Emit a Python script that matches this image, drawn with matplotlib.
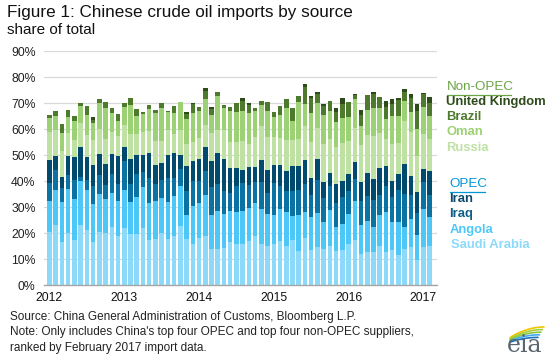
import matplotlib
matplotlib.use("Agg")
import matplotlib.pyplot as plt
import numpy as np

plt.rcParams['font.family'] = ['Liberation Sans', 'DejaVu Sans']

# Monthly, Jan 2012 .. Feb 2017 (share of total, %)
months = list(range(62))
year_labels = ['2012', '2013', '2014', '2015', '2016', '2017']

saudi = [20.4, 23.2, 16.7, 20.0, 17.2, 22.9, 21.0, 16.4, 20.3, 20.0,
         22.4, 18.7, 22.1, 19.5, 19.5, 21.8, 17.2, 17.6, 20.1, 17.8,
         19.0, 22.6, 17.8, 15.6, 18.2, 18.7, 14.0, 14.0, 14.4, 16.7,
         15.9, 15.6, 17.1, 19.0, 15.9, 14.9, 15.6, 17.1, 15.1, 17.4,
         13.2, 18.2, 13.6, 14.7, 14.0, 15.1, 13.2, 13.6, 15.9, 17.4,
         12.1, 12.8, 12.8, 15.1, 12.8, 13.6, 11.7, 14.0, 14.7, 9.7,
         14.7, 15.1]
angola = [12.0, 13.5, 15.4, 16.8, 15.7, 17.2, 15.7, 14.6, 14.7, 12.9,
          13.1, 13.7, 14.6, 12.6, 14.5, 16.0, 14.5, 14.8, 13.5, 14.3,
          15.4, 15.6, 9.3, 14.9, 13.5, 16.0, 13.1, 14.6, 13.0, 11.9,
          12.3, 13.0, 12.6, 12.7, 13.5, 12.5, 11.5, 12.3, 13.1, 9.3,
          13.9, 10.0, 12.7, 13.1, 10.4, 13.9, 9.2, 10.0, 11.5, 15.0,
          11.1, 11.9, 9.6, 12.0, 15.4, 10.8, 12.7, 8.4, 10.8, 9.7,
          14.7, 11.2]
iraq = [7.0, 7.7, 5.1, 5.6, 7.6, 1.3, 3.8, 6.9, 7.4, 5.4,
        7.3, 6.6, 11.1, 6.9, 8.8, 5.8, 9.6, 6.6, 6.9, 9.2,
        6.9, 6.5, 9.2, 9.6, 8.4, 9.3, 10.7, 10.4, 8.9, 6.9,
        10.0, 10.8, 8.9, 8.0, 10.3, 8.1, 12.3, 8.8, 8.1, 9.6,
        9.6, 10.8, 8.4, 12.7, 9.2, 9.2, 9.3, 10.4, 8.9, 8.5,
        9.2, 9.7, 10.4, 7.6, 10.0, 9.6, 12.3, 12.7, 9.2, 8.4,
        10.3, 8.4]
iran = [8.8, 5.1, 4.5, 7.3, 8.9, 11.8, 8.9, 8.4, 8.1, 8.4,
        7.7, 10.7, 5.4, 9.6, 7.3, 6.5, 9.6, 7.3, 6.6, 8.8,
        9.6, 5.4, 9.6, 7.7, 8.5, 9.2, 10.0, 11.9, 12.3, 9.6,
        6.9, 5.0, 6.9, 5.8, 8.5, 8.9, 6.9, 8.1, 7.7, 9.6,
        9.2, 9.2, 6.6, 8.1, 6.1, 5.0, 7.3, 6.1, 6.5, 6.5,
        7.3, 8.8, 8.1, 10.4, 7.7, 6.1, 6.1, 11.6, 7.4, 8.1,
        5.0, 9.3]
russia = [10.8, 10.0, 10.0, 8.6, 6.5, 9.2, 8.4, 9.3, 9.6, 9.3,
          8.5, 7.7, 8.5, 9.6, 8.1, 8.9, 8.5, 9.2, 8.4, 9.6,
          7.3, 9.6, 8.5, 7.3, 8.1, 8.5, 10.8, 8.8, 11.1, 10.0,
          10.0, 11.1, 8.9, 11.6, 13.1, 12.7, 10.8, 10.4, 11.9, 10.0,
          10.4, 13.1, 13.8, 11.9, 14.7, 13.1, 14.2, 14.6, 12.7, 13.1,
          14.3, 14.6, 16.5, 13.5, 10.4, 14.3, 11.9, 16.5, 16.9, 13.8,
          13.5, 12.3]
oman = [5.4, 5.6, 6.9, 6.4, 7.3, 6.6, 7.7, 6.6, 10.0, 11.9,
        7.0, 5.8, 6.9, 11.2, 6.9, 6.9, 8.4, 10.8, 12.7, 6.7,
        8.1, 10.8, 9.6, 11.2, 10.1, 10.0, 6.9, 13.1, 8.5, 12.0,
        11.6, 11.6, 11.9, 10.0, 8.1, 10.0, 7.6, 8.8, 12.3, 7.3,
        14.2, 8.4, 11.2, 9.6, 11.1, 10.8, 9.6, 9.7, 9.2, 11.2,
        7.3, 9.6, 10.8, 9.6, 7.7, 10.7, 10.4, 7.7, 7.7, 10.4,
        10.4, 8.8]
brazil = [1.1, 2.0, 3.5, 2.7, 1.9, 1.1, 3.5, 1.1, 1.3, 2.6,
          2.1, 2.7, 1.5, 2.7, 2.7, 0.8, 1.6, 1.1, 1.9, 0.7,
          2.5, 0.0, 1.9, 3.3, 1.8, 3.0, 2.3, 1.6, 1.2, 1.5,
          3.2, 3.8, 3.1, 1.1, 1.5, 3.4, 2.0, 3.5, 3.5, 5.0,
          2.3, 6.6, 5.8, 3.5, 3.5, 3.8, 3.9, 5.3, 5.8, 1.5,
          4.2, 5.8, 5.4, 4.2, 4.6, 4.6, 6.2, 3.5, 5.4, 7.0,
          5.0, 5.0]
uk = [0.0, 0.0, 0.0, 0.0, 0.0, 0.0, 0.0, 1.4, 0.0, 0.0,
      0.0, 0.0, 0.0, 0.0, 0.0, 0.0, 0.0, 0.0, 0.0, 0.0,
      0.0, 0.0, 0.8, 0.5, 0.0, 1.2, 0.8, 0.0, 0.0, 0.0,
      0.0, 1.2, 0.7, 0.0, 0.0, 0.0, 0.0, 0.0, 0.0, 0.0,
      0.0, 1.1, 0.7, 0.8, 0.7, 0.0, 1.5, 2.4, 0.0, 0.4,
      1.9, 0.0, 0.8, 0.0, 2.3, 2.0, 0.8, 1.1, 1.5, 2.6,
      0.4, 2.3]

series = [
    ('Saudi Arabia', saudi, '#8DD9F9'),
    ('Angola', angola, '#4DC7F7'),
    ('Iraq', iraq, '#0B73A3'),
    ('Iran', iran, '#004A6D'),
    ('Russia', russia, '#BFE1A3'),
    ('Oman', oman, '#9DD175'),
    ('Brazil', brazil, '#4D7A2D'),
    ('United Kingdom', uk, '#2E4B1B'),
]

fig = plt.figure(figsize=(5.51, 3.61), dpi=100)
ax = fig.add_axes([44/551, 76/361, 393/551, 234/361])

x = np.array(months)
bottom = np.zeros(len(x))
for name, vals, col in series:
    v = np.array(vals)
    ax.bar(x, v, bottom=bottom, width=0.72, color=col, linewidth=0, zorder=2)
    bottom += v

ax.set_xlim(-0.88, 62.19)
ax.set_ylim(0, 90)
ax.set_yticks(range(0, 91, 10))
ax.set_yticklabels([f'{t}%' for t in range(0, 91, 10)], fontsize=8.8, color='#222222')
ax.set_xticks([0, 12, 24, 36, 48, 60])
ax.set_xticklabels(year_labels, fontsize=8.8, color='#111111')
ax.tick_params(axis='both', length=0)
ax.tick_params(axis='y', pad=6)
ax.tick_params(axis='x', pad=5)
ax.grid(axis='y', color='#D9D9D9', linewidth=0.9, zorder=0)
for s in ['top', 'right', 'left']:
    ax.spines[s].set_visible(False)
ax.spines['bottom'].set_color('#A6A6A6')
ax.spines['bottom'].set_linewidth(1.0)

# Titles
fig.text(7/551, 1 - 12.5/361, 'Figure 1: Chinese crude oil imports by source',
         fontsize=12.3, color='#111111', va='center', ha='left')
fig.text(7/551, 1 - 30.5/361, 'share of total', fontsize=11, color='#111111',
         va='center', ha='left')

# Legend-like labels
def label(xp, yp, s, col):
    fig.text(xp/551, 1 - yp/361, s, fontsize=9.4, color=col, va='center', ha='left',
             fontweight='bold')

fig.text(446.5/551, 1 - 87.5/361, 'Non-OPEC', fontsize=9.6, color='#6AA446', va='center', ha='left')
fig.add_artist(plt.Line2D([446.5/551, 511/551], [1 - 95/361, 1 - 95/361], color='#6AA446', linewidth=0.9))
label(446.5, 102.5, 'United Kingdom', '#2E4B1B')
label(446.5, 117.5, 'Brazil', '#4D7A2D')
label(446.5, 132.5, 'Oman', '#9DD175')
label(446.5, 148, 'Russia', '#BFE1A3')

fig.text(449.5/551, 1 - 184/361, 'OPEC', fontsize=9.6, color='#0096D7', va='center', ha='left')
fig.add_artist(plt.Line2D([449.5/551, 485/551], [1 - 191.5/361, 1 - 191.5/361], color='#0096D7', linewidth=0.9))
label(449.5, 199, 'Iran', '#0B4A6D')
label(449.5, 214.5, 'Iraq', '#0B5F8C')
label(449.5, 230.5, 'Angola', '#4DC7F7')
label(451, 245.5, 'Saudi Arabia', '#8DD9F9')

# Source notes
notes = ['Source: China General Administration of Customs, Bloomberg L.P.',
         "Note: Only includes China's top four OPEC and top four non-OPEC suppliers,",
         'ranked by February 2017 import data.']
for i, n in enumerate(notes):
    fig.text(10/551, 1 - (317 + 15.5*i)/361, n, fontsize=8.5, color='#222222',
             va='center', ha='left')

# eia logo (approximation)
lax = fig.add_axes([498/551, 0, 53/551, 41/361])
lax.set_xlim(498, 551)
lax.set_ylim(361, 320)
lax.axis('off')
lax.text(525, 346, 'eia', fontsize=17, color='#5A6670', va='center', ha='center',
         family='DejaVu Serif')
t = np.linspace(0, 1, 40)
for i, c in enumerate(['#F2C500', '#A6CE39', '#8CC63F', '#3FA9F5', '#1C75BC']):
    xs = 510 + (34 - i*1.5) * t
    ys = 338 - (11 - i*1.5) * np.sin(t * np.pi / 2) ** 0.8 + i * 1.1
    lax.plot(xs, ys, color=c, linewidth=1.2, solid_capstyle='round')

fig.savefig('out.png', dpi=100)
